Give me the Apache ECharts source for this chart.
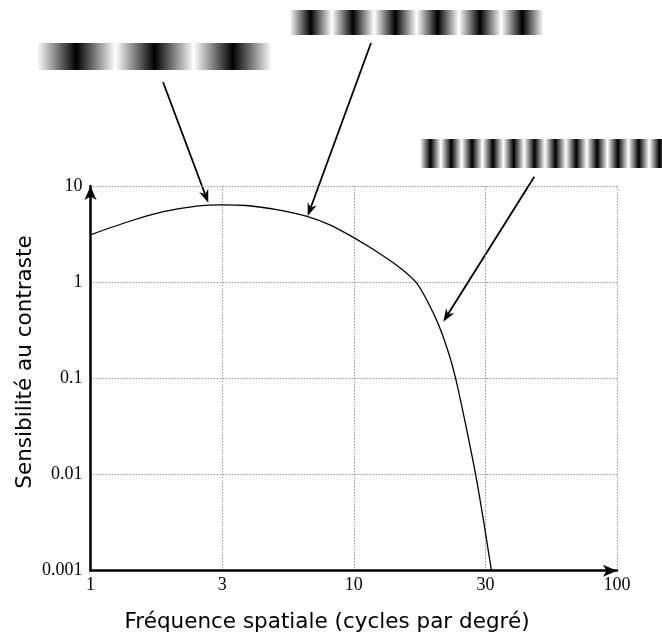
<!DOCTYPE html>
<html>
<head>
<meta charset="utf-8">
<script src="https://cdn.jsdelivr.net/npm/echarts@6/dist/echarts.min.js"></script>
<style>
html,body{margin:0;padding:0;background:#fff;}
#chart{width:662px;height:635px;}
</style>
</head>
<body>
<div id="chart"></div>
<script>
// Spatial frequency (cycles per degree)
const frequency = [1, 1.41, 1.89, 2.53, 3.14, 3.9, 5.22, 6.59, 8.07, 9.84, 11.8, 14.89, 17.22, 19.05, 21.09, 23.01, 24.38, 26.61, 29.04, 31.12, 33.34];
// Contrast sensitivity
const sensitivity = [3.11, 4.30, 5.40, 6.18, 6.37, 6.27, 5.60, 4.86, 3.97, 2.98, 2.21, 1.43, 1.0, 0.634, 0.351, 0.178, 0.1, 0.0331, 0.01, 0.00331, 0.001];
// Tick labels
const xTickLabels = ['1', '3', '10', '30', '100'];
const yTickLabels = ['0.001', '0.01', '0.1', '1', '10'];
const xTitle = 'Fréquence spatiale (cycles par degré)';
const yTitle = 'Sensibilité au contraste';

const chart = echarts.init(document.getElementById('chart'), null, {renderer: 'canvas'});

function grating(x, y, w, h, periods) {
  const stops = [];
  for (let k = 0; k <= periods; k++) {
    stops.push({offset: Math.min(1, k / periods), color: '#ffffff'});
    if (k < periods) stops.push({offset: (k + 0.5) / periods, color: '#000000'});
  }
  return {
    type: 'rect', silent: true,
    shape: {x: x, y: y, width: w, height: h},
    style: {fill: new echarts.graphic.LinearGradient(0, 0, 1, 0, stops)}
  };
}

function arrow(x1, y1, x2, y2) {
  const dx = x2 - x1, dy = y2 - y1;
  const len = Math.sqrt(dx * dx + dy * dy);
  const ux = dx / len, uy = dy / len;
  const nx = -uy, ny = ux;
  const L = 13, W = 4.8, N = 9;
  const bx = x2 - L * ux, by = y2 - L * uy;
  const mx = x2 - N * ux, my = y2 - N * uy;
  return [
    {type: 'line', silent: true, shape: {x1: x1, y1: y1, x2: mx, y2: my},
      style: {stroke: '#000', lineWidth: 1.8}},
    {type: 'polygon', silent: true,
      shape: {points: [[x2, y2], [bx + W * nx, by + W * ny], [mx, my], [bx - W * nx, by - W * ny]]},
      style: {fill: '#000'}}
  ];
}

const graphics = [
  grating(37, 43, 235, 27, 3),
  grating(289.5, 10, 254, 25, 6),
  grating(420, 139, 250, 29, 12)
].concat(
  arrow(163, 82, 208.3, 202.7),
  arrow(371, 43, 307.7, 216),
  arrow(534.3, 176.7, 443.3, 321.7)
).concat([
  {type: 'text', silent: true, x: 327, y: 622,
    style: {text: xTitle, font: '21.5px "DejaVu Sans"', fill: '#000', align: 'center', verticalAlign: 'middle'}},
  {type: 'text', silent: true, x: 25, y: 362, rotation: Math.PI / 2,
    style: {text: yTitle, font: '21.5px "DejaVu Sans"', fill: '#000', align: 'center', verticalAlign: 'middle'}}
]);

const serif = '"Liberation Serif", "DejaVu Serif", serif';

chart.setOption({
  animation: false,
  backgroundColor: '#fff',
  grid: {left: 90.5, right: 45, top: 186, bottom: 64.3, containLabel: false},
  xAxis: {
    type: 'log', logBase: Math.sqrt(10), min: 1, max: 100,
    axisLine: {show: true, lineStyle: {color: '#000', width: 2.5}, symbol: ['none', 'arrow'], symbolSize: [9, 14]},
    axisTick: {show: false},
    axisLabel: {
      color: '#000', fontFamily: serif, fontSize: 18, margin: 6,
      formatter: function (v) { return xTickLabels[Math.round(2 * Math.log10(v))] || ''; }
    },
    splitLine: {show: true, lineStyle: {color: '#999', width: 1, type: [1.5, 1.5]}},
    minorTick: {show: false}
  },
  yAxis: {
    type: 'log', logBase: 10, min: 0.001, max: 10,
    axisLine: {show: true, lineStyle: {color: '#000', width: 2.5}, symbol: ['none', 'arrow'], symbolSize: [9, 14]},
    axisTick: {show: false},
    axisLabel: {
      color: '#000', fontFamily: serif, fontSize: 18, margin: 8,
      formatter: function (v) { return yTickLabels[Math.round(Math.log10(v)) + 3] || ''; }
    },
    splitLine: {show: true, lineStyle: {color: '#999', width: 1, type: [1.5, 1.5]}}
  },
  series: [{
    type: 'line',
    data: frequency.map((f, i) => [f, sensitivity[i]]),
    smooth: 0.3,
    showSymbol: false,
    lineStyle: {color: '#000', width: 1.3},
    clip: false,
    z: 3
  }],
  graphic: graphics
});
</script>
</body>
</html>
